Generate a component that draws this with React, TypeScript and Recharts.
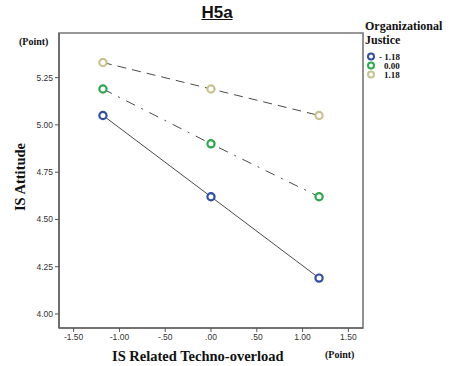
import React from "react";
import { Line, LineChart, ReferenceArea, XAxis, YAxis } from "recharts";

// IS Related Techno-overload (x) levels
const X_LEVELS = [-1.18, 0, 1.18];
// IS Attitude per Organizational Justice level
const LOW_OJ = [5.05, 4.62, 4.19];
const MID_OJ = [5.19, 4.9, 4.62];
const HIGH_OJ = [5.33, 5.19, 5.05];

const X_TICKS = [-1.5, -1.0, -0.5, 0, 0.5, 1.0, 1.5];
const Y_TICKS = [4.0, 4.25, 4.5, 4.75, 5.0, 5.25];
const X_DOMAIN = [-1.66, 1.66];
const Y_DOMAIN = [3.926, 5.486];

const SERIES = [
  { key: "low", label: "- 1.18", values: LOW_OJ, color: "#2f4ea6", dash: undefined },
  { key: "mid", label: "0.00", values: MID_OJ, color: "#2ca84c", dash: "10 7 2 7" },
  { key: "high", label: "1.18", values: HIGH_OJ, color: "#c9c28f", dash: "9 6" },
];

const data = X_LEVELS.map((x, i) => ({
  x,
  low: LOW_OJ[i],
  mid: MID_OJ[i],
  high: HIGH_OJ[i],
}));

const fmtX = (v: number): string => {
  const s = Math.abs(v).toFixed(2).replace(/^0/, "");
  return v < 0 ? `-${s}` : s;
};

const SERIF = "'Liberation Serif', 'Times New Roman', serif";
const SANS = "'Liberation Sans', Arial, sans-serif";

const ringDot = (color: string) => (props: { cx?: number; cy?: number; index?: number }) => (
  <circle
    key={`d-${props.index}`}
    cx={props.cx}
    cy={props.cy}
    r={3.6}
    fill="#ffffff"
    stroke={color}
    strokeWidth={2.2}
  />
);

export default function App() {
  return (
    <div style={{ position: "fixed", left: 0, top: 0, width: 452, height: 366, background: "#fff" }}>
      <LineChart width={452} height={366} data={data} margin={{ top: 33, right: 89, bottom: 0, left: 0 }}>
        {/* plot frame */}
        <ReferenceArea
          x1={X_DOMAIN[0]}
          x2={X_DOMAIN[1]}
          y1={Y_DOMAIN[0]}
          y2={Y_DOMAIN[1]}
          fill="none"
          fillOpacity={0}
          stroke="#777"
          strokeWidth={1.6}
          ifOverflow="visible"
        />
        <XAxis
          dataKey="x"
          type="number"
          domain={X_DOMAIN}
          ticks={X_TICKS}
          tickFormatter={fmtX}
          height={38}
          tick={{ fill: "#333", fontSize: 8.5, fontFamily: SANS }}
          tickLine={{ stroke: "#555" }}
          tickSize={4}
          axisLine={{ stroke: "#666", strokeWidth: 1.6 }}
          interval={0}
        />
        <YAxis
          type="number"
          domain={Y_DOMAIN}
          ticks={Y_TICKS}
          tickFormatter={(v: number) => v.toFixed(2)}
          width={59}
          tick={{ fill: "#333", fontSize: 8.5, fontFamily: SANS }}
          tickLine={{ stroke: "#555" }}
          tickSize={4}
          axisLine={{ stroke: "#666", strokeWidth: 1.6 }}
          interval={0}
        />
        {SERIES.map((s) => (
          <Line
            key={s.key}
            type="linear"
            dataKey={s.key}
            stroke="#4a4a4a"
            strokeWidth={1}
            strokeDasharray={s.dash}
            dot={ringDot(s.color)}
            activeDot={false}
            isAnimationActive={false}
          />
        ))}
      </LineChart>

      {/* title */}
      <div
        style={{
          position: "absolute",
          left: 0,
          width: 434,
          top: 3,
          textAlign: "center",
          fontFamily: SANS,
          fontWeight: 700,
          fontSize: 17,
          textDecoration: "underline",
          color: "#111",
        }}
      >
        H5a
      </div>
      <div style={{ position: "absolute", left: 19, top: 36, fontFamily: SERIF, fontWeight: 700, fontSize: 10, color: "#111" }}>
        (Point)
      </div>
      <div style={{ position: "absolute", left: 325, top: 349, fontFamily: SERIF, fontWeight: 700, fontSize: 10, color: "#111" }}>
        (Point)
      </div>
      <div
        style={{
          position: "absolute",
          left: 112,
          top: 348,
          fontFamily: SERIF,
          fontWeight: 700,
          fontSize: 14.5,
          color: "#111",
          whiteSpace: "nowrap",
        }}
      >
        IS Related Techno-overload
      </div>
      <div
        style={{
          position: "absolute",
          left: 20,
          top: 177,
          transform: "translate(-50%, -50%) rotate(-90deg)",
          fontFamily: SERIF,
          fontWeight: 700,
          fontSize: 14.5,
          color: "#111",
          whiteSpace: "nowrap",
        }}
      >
        IS Attitude
      </div>

      {/* legend */}
      <div style={{ position: "absolute", left: 365, top: 19, fontFamily: SERIF, fontWeight: 700, fontSize: 12, color: "#111", lineHeight: "14px" }}>
        <div>Organizational</div>
        <div>Justice</div>
        <div style={{ marginTop: 5 }}>
          {SERIES.map((s) => (
            <div key={s.key} style={{ display: "flex", alignItems: "center", height: 9, fontSize: 9, fontWeight: 700 }}>
              <svg width={12} height={9}>
                <circle cx={6} cy={4.5} r={3} fill="#fff" stroke={s.color} strokeWidth={2} />
              </svg>
              <span style={{ marginLeft: s.key === "low" ? 2 : 7 }}>{s.label}</span>
            </div>
          ))}
        </div>
      </div>
    </div>
  );
}
